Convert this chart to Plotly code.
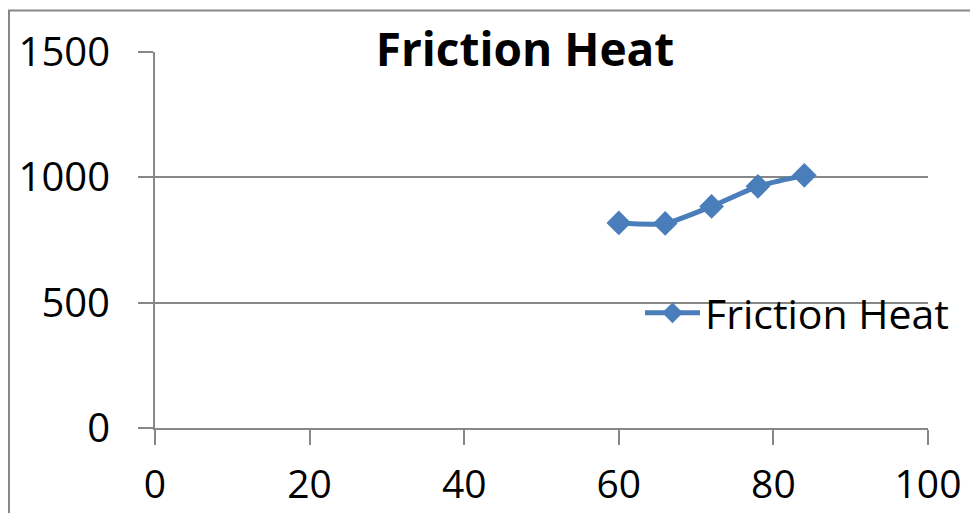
import plotly.graph_objects as go

# Friction heat measurements
speed = [60, 66, 72, 78, 84]
friction_heat = [818, 816, 884, 964, 1008]
series_name = "Friction Heat"
x_ticks = [0, 20, 40, 60, 80, 100]
y_ticks = [0, 500, 1000, 1500]

W, H = 970, 513
L, R, T, B = 155, 42, 51.5, 85
pw, ph = W - L - R, H - T - B

blue = "#4A7EBB"
grey = "#878787"
font_family = "Open Sans, Noto Sans, sans-serif"

fig = go.Figure()
fig.add_trace(go.Scatter(
    x=speed, y=friction_heat, name=series_name,
    mode="lines+markers",
    line=dict(color=blue, width=5, shape="spline", smoothing=0.6),
    marker=dict(symbol="diamond", size=19, color=blue),
))

def px_x(p):
    return (p - L) / pw

def px_y(p):
    return (H - B - p) / ph

fig.update_layout(
    width=W, height=H,
    margin=dict(l=L, r=R, t=T, b=B, autoexpand=False),
    paper_bgcolor="white", plot_bgcolor="white",
    font=dict(family=font_family, size=40, color="black"),
    title=dict(text="<b>Friction Heat</b>", xref="container", x=525 / W,
               xanchor="center", yref="container", y=1 - 50 / H,
               yanchor="middle",
               font=dict(size=46, family=font_family, color="black")),
    showlegend=True,
    legend=dict(x=px_x(640), y=px_y(313), xanchor="left", yanchor="middle",
                bgcolor="rgba(0,0,0,0)", font=dict(size=41),
                itemwidth=55),
    xaxis=dict(range=[0, 100], tickvals=x_ticks, showgrid=False,
               showline=True, linecolor=grey, linewidth=2,
               ticks="outside", ticklen=15, tickwidth=2, tickcolor=grey,
               ticklabelstandoff=6, tickfont=dict(size=39),
               zeroline=False, automargin=False),
    yaxis=dict(range=[0, 1500], tickvals=y_ticks, showgrid=True,
               gridcolor=grey, gridwidth=2,
               showline=True, linecolor=grey, linewidth=2,
               ticks="outside", ticklen=15, tickwidth=2, tickcolor=grey,
               ticklabelstandoff=20, zeroline=False, automargin=False),
)

# Outer chart frame (partly clipped at the right and bottom edges)
fig.add_shape(type="rect", xref="paper", yref="paper",
              x0=px_x(9), x1=px_x(990), y0=px_y(530), y1=px_y(10),
              line=dict(color=grey, width=2), layer="below")

fig.write_html("out.html")
